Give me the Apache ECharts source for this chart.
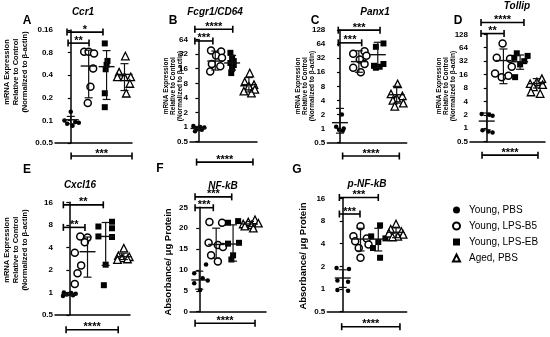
<!DOCTYPE html>
<html><head><meta charset="utf-8">
<script src="https://cdn.jsdelivr.net/npm/echarts@6/dist/echarts.min.js"></script>
<style>html,body{margin:0;padding:0;background:#fff}#c{width:550px;height:337px}</style>
</head><body><div id="c"></div>
<script>
const groupNames = ['Young, PBS','Young, LPS-B5','Young, LPS-EB','Aged, PBS'];

// ---- Panel A: Ccr1
const A_ticks = [0.05,0.1,0.2,0.4,0.8,1.6];
const A_tickLabels = ['0.0.5','0.1','0.2','0.4','0.8','0.16'];
const A_pbs = [0.13,0.10,0.095,0.093,0.09,0.085];
const A_b5 = [0.82,0.82,0.78,0.49,0.28,0.17];
const A_eb = [1.06,0.62,0.55,0.48,0.23,0.15];
const A_aged = [0.72,0.44,0.38,0.38,0.38,0.31,0.23];
const A_mean = [0.102,0.53,0.52,0.41];
const A_lo = [0.09,0.2,0.19,0.25];
const A_hi = [0.113,0.86,0.85,0.57];
const A_sig = [[-0.21,1.8,1.5,'*'],[-0.15,1.02,1.07,'**'],[0.02,3.42,0.0335,'***']];

// ---- Panel B: Fcgr1/CD64
const B_ticks = [0.5,1,2,4,8,16,32,64];
const B_tickLabels = ['0.5','1','2','4','8','16','32','64'];
const B_pbs = [1.05,1.0,0.98,0.92,0.88,0.82];
const B_b5 = [38,36,30,27,20,18,14];
const B_eb = [34,27,23,21,19,16,13];
const B_aged = [13,8.5,7.5,7,6,5.5,5];
const B_mean = [0.94,23,21,7.5];
const B_lo = [0.85,15,15,5.3];
const B_hi = [1.03,37,30,10.5];
const B_sig = [[-0.21,2.04,104,'****'],[-0.21,0.86,59.7,'***'],[-0.11,3.24,0.19,'****']];

// ---- Panel C: Panx1
const C_ticks = [0.5,1,2,4,8,16,32,64,128];
const C_tickLabels = ['0.5','1','2','4','8','16','32','64','128'];
const C_pbs = [2.0,1.1,1.0,0.95,0.9];
const C_b5 = [45,40,36,30,24,20,16];
const C_eb = [66,56,24,22,21,20];
const C_aged = [9,5.5,5,4.5,4,3.5,3];
const C_mean = [1.34,27,38,5.3];
const C_lo = [0.8,16,20,3.5];
const C_hi = [2.7,46,70,8];
const C_sig = [[-0.09,2.12,127,'***'],[-0.09,1.15,68,'***'],[0.14,3.14,0.26,'****']];

// ---- Panel D: Tollip
const D_ticks = [0.5,1,2,4,8,16,32,64,128];
const D_tickLabels = ['0.5','1','2','4','8','16','32','64','128'];
const D_pbs = [2.1,2.0,1.9,0.9,0.85,0.8];
const D_b5 = [80,38,36,24,17,15,14];
const D_eb = [48,42,38,32,27,14];
const D_aged = [13,11,10,9.5,8.5,6.5,6];
const D_mean = [1.45,33,31,10];
const D_lo = [0.92,10,21,8];
const D_hi = [2.2,60,44,13];
const D_sig = [[-0.34,2.23,236,'****'],[-0.34,1.04,133,'**'],[-0.28,3.07,0.25,'****']];

// ---- Panel E: Cxcl16
const E_ticks = [0.5,1,2,4,8,16];
const E_tickLabels = ['0.5','1','2','4','8','16'];
const E_pbs = [1.0,0.98,0.96,0.94,0.92,0.9];
const E_b5 = [5.6,5.4,4.7,3.4,2.3,1.8,1.3];
const E_eb = [8.8,7.6,7.2,5.6,5.5,2.35,1.25];
const E_aged = [3.9,3.1,3.0,2.9,2.8,2.75,2.7];
const E_mean = [0.95,3.5,5.6,3.0];
const E_lo = [0.91,1.6,2.3,2.75];
const E_hi = [0.99,5.5,8.6,3.35];
const E_sig = [[-0.33,1.87,14.8,'**'],[-0.33,0.86,7.4,'**'],[-0.18,2.69,0.317,'****']];

// ---- Panel F: NF-kB
const F_ticks = [0,5,10,15,20,25];
const F_tickLabels = ['0','5','10','15','20','25'];
const F_pbs = [11.3,9.2,8.0,7.5,6.8,5.2];
const F_b5 = [21.5,21.3,16.5,16.0,15.5,13.5,12.0];
const F_eb = [21.7,21.3,16.5,16.3,13.5,12.5];
const F_aged = [22,21.5,21.2,21.0,20.8,20.5,20];
const F_mean = [7.6,16.1,16.2,21];
const F_lo = [5.4,12.8,12.1,20.4];
const F_hi = [9.7,20,20.8,21.6];
const F_sig = [[-0.25,1.92,27.5,'***'],[-0.25,0.83,24.9,'***'],[-0.25,3.3,-2.78,'****']];

// ---- Panel G: p-NF-kB
const G_ticks = [0.5,1,2,4,8,16];
const G_tickLabels = ['0.5','1','2','4','8','16'];
const G_pbs = [1.9,1.85,1.3,1.25,0.97,0.95];
const G_b5 = [6.8,5.0,4.7,4.3,3.9,3.5,2.6];
const G_eb = [7.0,5.0,4.7,4.2,3.5,2.6];
const G_aged = [7.3,6.2,5.8,5.5,5.3,5.0,4.9];
const G_mean = [1.4,4.6,4.6,5.65];
const G_lo = [1.05,3.2,3.2,4.8];
const G_hi = [1.8,6.4,6.4,6.6];
const G_sig = [[-0.19,2.0,16.4,'***'],[-0.19,0.97,9.9,'***'],[-0.06,3.22,0.316,'****']];

// horizontal jitter of the points inside each group (category units)
const J6 = [-0.3,0.1,0.35,-0.15,0.2,-0.35];
const jit = {
  A:[[0,-0.35,0.25,0.45,-0.2,0.1],[-0.25,0.0,0.3,0.25,0.1,-0.05],[-0.1,0.05,0,-0.05,-0.1,-0.1],[0.05,-0.3,-0.4,0.0,0.35,0.3,0.1]],
  B:[[-0.3,0.1,0.35,-0.1,0.2,-0.2],[-0.25,0.35,0.05,0.4,-0.2,0.3,-0.3],[-0.1,0,0.1,-0.1,0.1,0,-0.05],[0.05,-0.25,0.3,0.0,0.35,-0.3,0.15]],
  C:[[0.1,-0.2,0.2,-0.05,0.15],[0.3,-0.3,0.4,0.05,0.3,-0.3,0.1],[0.3,-0.1,0.3,-0.2,0.1,-0.1],[0.05,-0.3,0.3,0.0,-0.2,0.35,-0.1]],
  D:[[-0.3,0.15,0.35,-0.25,0.1,0.35],[-0.05,-0.4,0.4,0.5,-0.5,0.3,-0.1],[-0.2,0.45,-0.35,0.25,0,-0.3],[0.3,0.0,-0.4,0.35,-0.2,-0.35,0.2]],
  E:[J6,[-0.4,0.0,-0.15,-0.7,-0.35,-0.55,-0.7],[0.35,-0.4,0.35,-0.4,0.35,0,-0.1],[0.0,-0.3,0.3,-0.1,0.2,-0.35,0.4]],
  F:[[0.4,-0.3,0.2,0.5,-0.3,0.05],[-0.4,0.35,-0.45,0.1,0.4,-0.3,0.1],[0.3,-0.3,0.35,-0.3,0,-0.1],[0.3,-0.1,0.5,-0.4,0.1,-0.3,0.2]],
  G:[[-0.35,0.35,-0.3,0.3,-0.3,0.3],[0,-0.4,0.35,-0.3,0.45,-0.1,0],[0.1,-0.4,0.4,0,-0.3,0.1],[0,-0.3,0.3,-0.4,0.4,0.1,-0.2]]
};

const FONT = 'Liberation Sans, Arial, sans-serif';
const mRNA = 'mRNA Expression\nRelative to Control\n(Normalized to \u03b2-actin)';
const ABS = 'Absorbance/ \u03bcg Protein';

const panels = [
  {k:'A', title:'Ccr1', tp:[83,12], lp:[27,21], grid:[55,30,77,113], x:[-0.88,3.42], log:true, ticks:A_ticks, labels:A_tickLabels,
   vals:[A_pbs,A_b5,A_eb,A_aged], mean:A_mean, lo:A_lo, hi:A_hi, sig:A_sig, yname:mRNA, yp:[16,72], yfs:7.5, ylh:9},
  {k:'B', title:'Fcgr1/CD64', tp:[215,12], lp:[173,21], grid:[190,39.5,67,102.2], x:[-0.5,3.48], log:true, ticks:B_ticks, labels:B_tickLabels,
   vals:[B_pbs,B_b5,B_eb,B_aged], mean:B_mean, lo:B_lo, hi:B_hi, sig:B_sig, yname:mRNA, yp:[173,86], yfs:6.5, ylh:7},
  {k:'C', title:'Panx1', tp:[375,12], lp:[315,21], grid:[327.3,30,79.4,112.7], x:[-0.67,3.53], log:true, ticks:C_ticks, labels:C_tickLabels,
   vals:[C_pbs,C_b5,C_eb,C_aged], mean:C_mean, lo:C_lo, hi:C_hi, sig:C_sig, yname:mRNA, yp:[305,86], yfs:6.5, ylh:7},
  {k:'D', title:'Tollip', tp:[517,6], lp:[458,21], grid:[470,34.3,75,107.4], x:[-1.0,3.49], log:true, ticks:D_ticks, labels:D_tickLabels,
   vals:[D_pbs,D_b5,D_eb,D_aged], mean:D_mean, lo:D_lo, hi:D_hi, sig:D_sig, yname:mRNA, yp:[446,86], yfs:6.5, ylh:7},
  {k:'E', title:'Cxcl16', tp:[80,185], lp:[27,170], grid:[55,202.3,75,112.7], x:[-0.79,3.34], log:true, ticks:E_ticks, labels:E_tickLabels,
   vals:[E_pbs,E_b5,E_eb,E_aged], mean:E_mean, lo:E_lo, hi:E_hi, sig:E_sig, yname:mRNA, yp:[16,250], yfs:7.5, ylh:9},
  {k:'F', title:'NF-kB', tp:[223,186], lp:[160,169], grid:[190,207.3,76,104.4], x:[-0.55,3.95], log:false, ticks:F_ticks, labels:F_tickLabels,
   vals:[F_pbs,F_b5,F_eb,F_aged], mean:F_mean, lo:F_lo, hi:F_hi, sig:F_sig, yname:ABS, yp:[168,262], yfs:9.5, ylh:11},
  {k:'G', title:'p-NF-kB', tp:[367,184], lp:[297,170], grid:[327.3,198.3,79.4,113.4], x:[-0.87,3.6], log:true, ticks:G_ticks, labels:G_tickLabels,
   vals:[G_pbs,G_b5,G_eb,G_aged], mean:G_mean, lo:G_lo, hi:G_hi, sig:G_sig, yname:ABS, yp:[303,256], yfs:9.5, ylh:11}
];

const symbols = [
  {symbol:'circle', size:4.5, style:{color:'#000'}},
  {symbol:'circle', size:7, style:{color:'#fff', borderColor:'#000', borderWidth:1.5}},
  {symbol:'rect', size:6, style:{color:'#000'}},
  {symbol:'triangle', size:7.5, style:{color:'#fff', borderColor:'#000', borderWidth:1.3}}
];

const grids = [], xAxes = [], yAxes = [], series = [], graphics = [];

function errRender(params, api) {
  const x = api.value(0);
  const pm = api.coord([x, api.value(1)]);
  const pl = api.coord([x, api.value(2)]);
  const ph = api.coord([x, api.value(3)]);
  const st = {stroke:'#111', lineWidth:1.2};
  const cap = 4, mw = 8;
  return {type:'group', children:[
    {type:'line', shape:{x1:pl[0], y1:pl[1], x2:ph[0], y2:ph[1]}, style:st},
    {type:'line', shape:{x1:ph[0]-cap, y1:ph[1], x2:ph[0]+cap, y2:ph[1]}, style:st},
    {type:'line', shape:{x1:pl[0]-cap, y1:pl[1], x2:pl[0]+cap, y2:pl[1]}, style:st},
    {type:'line', shape:{x1:pm[0]-mw, y1:pm[1], x2:pm[0]+mw, y2:pm[1]}, style:{stroke:'#111', lineWidth:1.4}}
  ]};
}
function sigRender(labels, params, api) {
  const a = api.coord([api.value(0), api.value(2)]);
  const b = api.coord([api.value(1), api.value(2)]);
  const txt = labels[params.dataIndex];
  const st = {stroke:'#000', lineWidth:1.6};
  return {type:'group', children:[
    {type:'line', shape:{x1:a[0], y1:a[1], x2:b[0], y2:b[1]}, style:st},
    {type:'line', shape:{x1:a[0], y1:a[1]-3.5, x2:a[0], y2:a[1]+3.5}, style:st},
    {type:'line', shape:{x1:b[0], y1:b[1]-3.5, x2:b[0], y2:b[1]+3.5}, style:st},
    {type:'text', x:(a[0]+b[0])/2, y:a[1]-2.5, style:{text:txt, align:'center', verticalAlign:'middle', font:'bold 11px ' + FONT, fill:'#000'}}
  ]};
}

panels.forEach((p, i) => {
  grids.push({left:p.grid[0], top:p.grid[1], width:p.grid[2], height:p.grid[3], containLabel:false});
  xAxes.push({type:'value', gridIndex:i, min:p.x[0], max:p.x[1], axisLine:{show:true, onZero:false, lineStyle:{color:'#000', width:1.5}},
    axisTick:{show:false}, axisLabel:{show:false}, splitLine:{show:false}});
  const labelOf = v => { let best = 0; p.ticks.forEach((t, j) => { if (Math.abs(t - v) < Math.abs(p.ticks[best] - v)) best = j; }); return p.labels[best]; };
  const y = {gridIndex:i, min:p.ticks[0], max:p.ticks[p.ticks.length-1],
    axisLine:{show:true, lineStyle:{color:'#000', width:1.5}},
    axisTick:{show:true, length:3, lineStyle:{color:'#000', width:1.2}},
    axisLabel:{fontSize:8, fontWeight:'bold', color:'#000', fontFamily:FONT, margin:2},
    splitLine:{show:false}};
  if (p.log) {
    y.type = 'log'; y.logBase = 2;
    y.axisTick.customValues = p.ticks;
    y.axisLabel.customValues = p.ticks;
    y.axisLabel.formatter = v => labelOf(v);
  } else {
    y.type = 'value'; y.interval = 5;
    y.axisLabel.formatter = v => labelOf(v);
  }
  yAxes.push(y);

  p.vals.forEach((arr, g) => {
    const s = symbols[g];
    series.push({type:'scatter', name:groupNames[g], xAxisIndex:i, yAxisIndex:i, symbol:s.symbol, symbolSize:s.size,
      itemStyle:Object.assign({opacity:1}, s.style), emphasis:{disabled:true}, z:2,
      data: arr.map((v, j) => [g + jit[p.k][g][j % jit[p.k][g].length], v])});
  });
  series.push({type:'custom', xAxisIndex:i, yAxisIndex:i, renderItem:errRender, z:3, silent:true,
    encode:{x:0, y:[1,2,3]},
    data: p.mean.map((m, g) => [g, m, p.lo[g], p.hi[g]])});
  const labs = p.sig.map(s => s[3]);
  series.push({type:'custom', xAxisIndex:i, yAxisIndex:i, clip:false, z:4, silent:true,
    renderItem:(params, api) => sigRender(labs, params, api),
    encode:{x:[0,1], y:2},
    data: p.sig.map(s => [s[0], s[1], s[2]])});

  graphics.push({type:'text', x:p.tp[0], y:p.tp[1], style:{text:p.title, align:'center', verticalAlign:'middle', font:'italic bold 10px ' + FONT, fill:'#000'}});
  graphics.push({type:'text', x:p.lp[0], y:p.lp[1], style:{text:p.k, align:'center', verticalAlign:'middle', font:'bold 12px ' + FONT, fill:'#000'}});
  graphics.push({type:'text', x:p.yp[0], y:p.yp[1], rotation:Math.PI/2, style:{text:p.yname, align:'center', verticalAlign:'middle', font:'bold ' + p.yfs + 'px ' + FONT, lineHeight:p.ylh, fill:'#000'}});
});

const chart = echarts.init(document.getElementById('c'), null, {renderer:'canvas', width:550, height:337});
chart.setOption({
  animation:false,
  backgroundColor:'#fff',
  grid:grids, xAxis:xAxes, yAxis:yAxes, series:series, graphic:graphics,
  legend:{orient:'vertical', left:447, top:200, itemWidth:7, itemHeight:7, itemGap:6, selectedMode:false,
    textStyle:{fontSize:10, fontFamily:FONT, color:'#000', padding:[0,0,0,4]}, data:groupNames}
});
</script></body></html>
